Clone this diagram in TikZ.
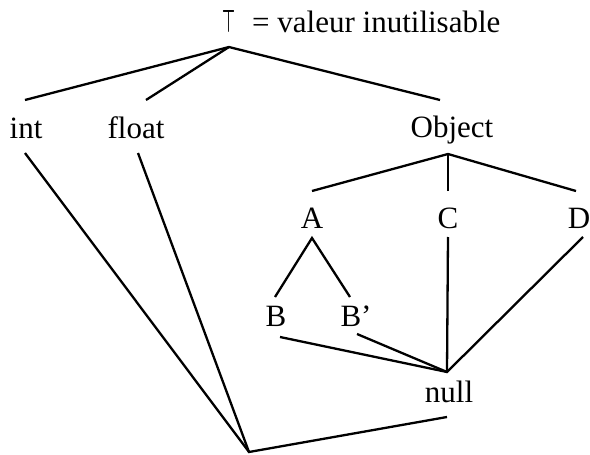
\documentclass[tikz,border=0pt]{standalone}
\usepackage{fontspec}
\setmainfont{Liberation Serif}
\begin{document}
\begin{tikzpicture}[x=1pt,y=-1pt,
  lbl/.style={inner sep=0pt,font=\fontsize{31}{37}\selectfont,anchor=base},
  edge/.style={line width=2.3pt,line cap=butt,line join=miter}]
\useasboundingbox (0,0) rectangle (590,455);
% labels
\node[lbl] (topsym) at (229,32) {\resizebox{13pt}{22pt}{\boldmath$\top$}};
\node[lbl,anchor=base west] (toplbl) at (252,32) {= valeur inutilisable};
\node[lbl] (int) at (26,138) {int};
\node[lbl] (float) at (136,138) {float};
\node[lbl] (obj) at (452,137) {Object};
\node[lbl] (a) at (312,228) {A};
\node[lbl] (c) at (448,228) {C};
\node[lbl] (d) at (579,228) {D};
\node[lbl] (b) at (276,326) {B};
\node[lbl] (bp) at (356,326) {B’};
\node[lbl] (null) at (449,402) {null};
% connection points
\coordinate (topapex) at (229,47);
\coordinate (int-up) at (25,100);
\coordinate (float-up) at (146,100);
\coordinate (obj-up) at (440,100);
\coordinate (int-dn) at (25,153);
\coordinate (float-dn) at (138,153);
\coordinate (bottom) at (249,452);
\coordinate (obj-dn) at (448,154);
\coordinate (a-up) at (312,191);
\coordinate (c-up) at (448,191);
\coordinate (d-up) at (576,191);
\coordinate (a-dn) at (312,238);
\coordinate (b-up) at (275,297);
\coordinate (bp-up) at (350,297);
\coordinate (b-dn) at (280,337);
\coordinate (bp-dn) at (357,334);
\coordinate (c-dn) at (448,237);
\coordinate (d-dn) at (583,237);
\coordinate (null-up) at (447,372);
\coordinate (null-dn) at (447,417);
% edges
\draw[edge] (int-up) -- (topapex) -- (obj-up);
\draw[edge] (float-up) -- (topapex);
\draw[edge] (int-dn) -- (bottom) -- (null-dn);
\draw[edge] (float-dn) -- (bottom);
\draw[edge] (a-up) -- (obj-dn) -- (d-up);
\draw[edge] (c-up) -- (obj-dn);
\draw[edge] (b-up) -- (a-dn) -- (bp-up);
\draw[edge] (b-dn) -- (null-up) -- (d-dn);
\draw[edge] (bp-dn) -- (null-up);
\draw[edge] (c-dn) -- (null-up);
\end{tikzpicture}
\end{document}
